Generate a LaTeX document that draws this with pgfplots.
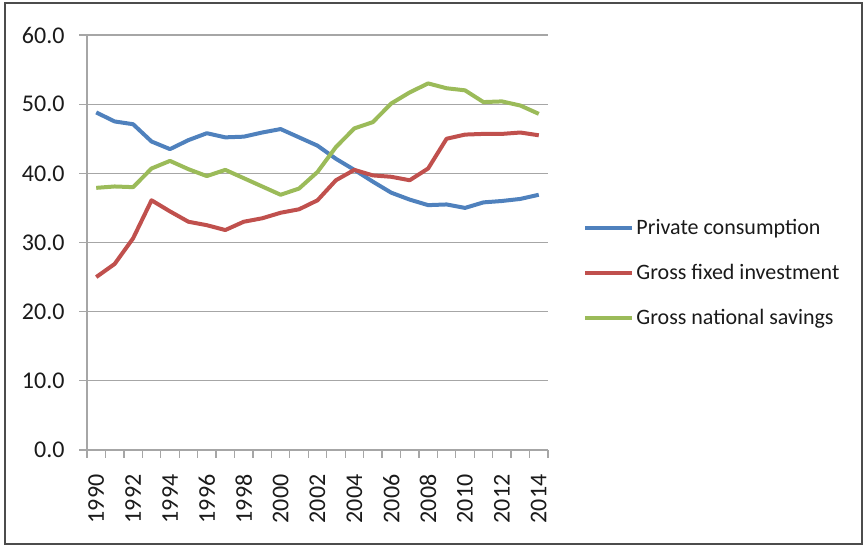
\documentclass[border=0pt]{standalone}
\usepackage{fontspec}
\setmainfont{Carlito}
\usepackage{pgfplots}
\pgfplotsset{compat=1.18}
\definecolor{pcblue}{HTML}{4F81BD}
\definecolor{gfred}{HTML}{C0504D}
\definecolor{gsgreen}{HTML}{9BBB59}
\definecolor{gridgray}{HTML}{A6A6A6}
\definecolor{txt}{HTML}{1A1A1A}

\pgfplotstableread{
year pc gfi gns
1990 48.8 25.0 37.9
1991 47.5 26.9 38.1
1992 47.1 30.6 38.0
1993 44.6 36.1 40.7
1994 43.5 34.5 41.8
1995 44.8 33.0 40.6
1996 45.8 32.5 39.6
1997 45.2 31.8 40.5
1998 45.3 33.0 39.3
1999 45.9 33.5 38.1
2000 46.4 34.3 36.9
2001 45.2 34.8 37.8
2002 44.0 36.1 40.2
2003 42.1 39.0 43.8
2004 40.5 40.5 46.5
2005 38.8 39.7 47.4
2006 37.2 39.5 50.1
2007 36.2 39.0 51.7
2008 35.4 40.7 53.0
2009 35.5 45.0 52.3
2010 35.0 45.6 52.0
2011 35.8 45.7 50.3
2012 36.0 45.7 50.4
2013 36.3 45.9 49.8
2014 36.9 45.5 48.6
}\datatable

\begin{document}
\begin{tikzpicture}
\path[use as bounding box] (0bp,0bp) rectangle (866bp,547bp);
\draw[line width=2.5bp, color=black!70] (5bp,3bp) rectangle (862bp,544bp);
\begin{axis}[
  at={(87bp,97bp)}, anchor=south west,
  scale only axis, width=461bp, height=415bp,
  xmin=1989.5, xmax=2014.5, ymin=0, ymax=60,
  axis x line=bottom, axis y line=left,
  axis line style={-, draw=gridgray, line width=1.3bp},
  tick align=outside,
  xtick={1990,1992,...,2014},
  major x tick style={draw=none},
  minor xtick={1989.5,1990.5,...,2014.5},
  minor x tick style={draw=gridgray, line width=1.3bp},
  minor tick length=8bp,
  ytick={0,10,...,60},
  major y tick style={draw=gridgray, line width=1.3bp},
  major tick length=8bp,
  ymajorgrids,
  major grid style={draw=gridgray, line width=1.3bp},
  /pgf/number format/assume math mode=true,
  xticklabel shift=13bp,
  yticklabel shift=11bp,
  xticklabel style={rotate=90, anchor=east, font=\fontsize{24bp}{28bp}\selectfont, text=txt},
  xticklabel={\pgfmathprintnumber[1000 sep={},fixed,precision=0]{\tick}},
  yticklabel style={font=\fontsize{24bp}{28bp}\selectfont, text=txt},
  yticklabel={\pgfmathprintnumber[fixed,fixed zerofill,precision=1]{\tick}},
  legend style={at={(1.07,0.427)}, anchor=west, draw=none, fill=none,
    font=\fontsize{22bp}{26bp}\selectfont, text=txt, row sep=24bp,
    nodes={inner sep=2bp}},
  legend cell align=left,
  legend image code/.code={\draw[#1, line width=4bp] (0bp,0bp) -- (47bp,0bp);},
  every axis plot/.append style={line width=4bp, line join=round, mark=none},
]
\addplot[pcblue] table[x=year, y=pc] {\datatable};
\addlegendentry{Private consumption}
\addplot[gfred] table[x=year, y=gfi] {\datatable};
\addlegendentry{Gross fixed investment}
\addplot[gsgreen] table[x=year, y=gns] {\datatable};
\addlegendentry{Gross national savings}
\end{axis}
\end{tikzpicture}
\end{document}
